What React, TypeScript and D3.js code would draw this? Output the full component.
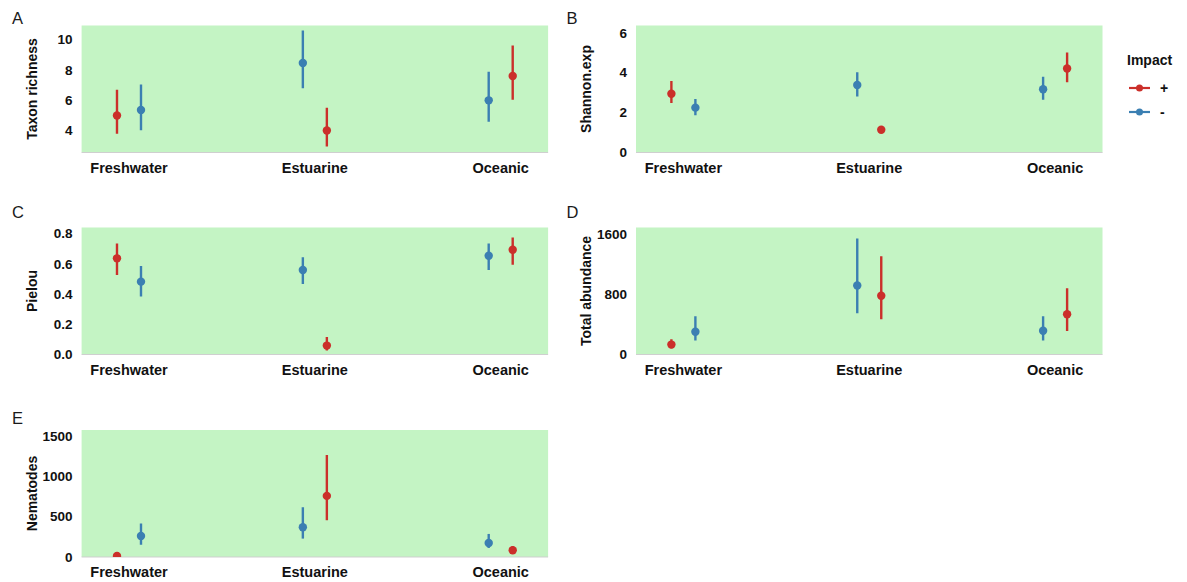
import React from "react";
import * as d3 from "d3";

const categories = ["Freshwater", "Estuarine", "Oceanic"];
const impactLevels = ["+", "-"];
const leftImpactByCategory = ["+", "-", "-"];

const panelLetters = ["A", "B", "C", "D", "E"];
const panelTitles = ["Taxon richness", "Shannon.exp", "Pielou", "Total abundance", "Nematodes"];

// A: Taxon richness
const richnessPlusMean = [5.0, 4.02, 7.6];
const richnessPlusLow = [3.8, 2.97, 6.03];
const richnessPlusHigh = [6.7, 5.52, 9.6];
const richnessMinusMean = [5.36, 8.46, 6.0];
const richnessMinusLow = [4.04, 6.79, 4.59];
const richnessMinusHigh = [7.04, 10.59, 7.88];
const richnessTicks = [4, 6, 8, 10];
const richnessDomain = [2.57, 10.92];

// B: Shannon.exp
const shannonPlusMean = [2.95, 1.14, 4.21];
const shannonPlusLow = [2.48, 0.99, 3.52];
const shannonPlusHigh = [3.58, 1.32, 5.02];
const shannonMinusMean = [2.25, 3.39, 3.17];
const shannonMinusLow = [1.87, 2.81, 2.64];
const shannonMinusHigh = [2.68, 4.03, 3.8];
const shannonTicks = [0, 2, 4, 6];
const shannonDomain = [0, 6.37];

// C: Pielou
const pielouPlusMean = [0.636, 0.059, 0.693];
const pielouPlusLow = [0.526, 0.026, 0.594];
const pielouPlusHigh = [0.734, 0.116, 0.774];
const pielouMinusMean = [0.482, 0.559, 0.653];
const pielouMinusLow = [0.384, 0.467, 0.559];
const pielouMinusHigh = [0.585, 0.644, 0.734];
const pielouTicks = [0, 0.2, 0.4, 0.6, 0.8];
const pielouDomain = [0, 0.84];

// D: Total abundance
const abundancePlusMean = [132, 782, 536];
const abundancePlusLow = [84, 470, 312];
const abundancePlusHigh = [202, 1310, 884];
const abundanceMinusMean = [303, 919, 316];
const abundanceMinusLow = [185, 549, 185];
const abundanceMinusHigh = [510, 1547, 510];
const abundanceTicks = [0, 800, 1600];
const abundanceDomain = [0, 1692];

// E: Nematodes
const nematodesPlusMean = [12, 758, 83];
const nematodesPlusLow = [0, 456, 50];
const nematodesPlusHigh = [33, 1264, 133];
const nematodesMinusMean = [261, 369, 174];
const nematodesMinusLow = [153, 228, 112];
const nematodesMinusHigh = [414, 617, 286];
const nematodesTicks = [0, 500, 1000, 1500];
const nematodesDomain = [0, 1575];

const panelsData = [
  { plus: [richnessPlusMean, richnessPlusLow, richnessPlusHigh], minus: [richnessMinusMean, richnessMinusLow, richnessMinusHigh], ticks: richnessTicks, domain: richnessDomain, fmt: (v: number) => String(v) },
  { plus: [shannonPlusMean, shannonPlusLow, shannonPlusHigh], minus: [shannonMinusMean, shannonMinusLow, shannonMinusHigh], ticks: shannonTicks, domain: shannonDomain, fmt: (v: number) => String(v) },
  { plus: [pielouPlusMean, pielouPlusLow, pielouPlusHigh], minus: [pielouMinusMean, pielouMinusLow, pielouMinusHigh], ticks: pielouTicks, domain: pielouDomain, fmt: d3.format(".1f") },
  { plus: [abundancePlusMean, abundancePlusLow, abundancePlusHigh], minus: [abundanceMinusMean, abundanceMinusLow, abundanceMinusHigh], ticks: abundanceTicks, domain: abundanceDomain, fmt: (v: number) => String(v) },
  { plus: [nematodesPlusMean, nematodesPlusLow, nematodesPlusHigh], minus: [nematodesMinusMean, nematodesMinusLow, nematodesMinusHigh], ticks: nematodesTicks, domain: nematodesDomain, fmt: (v: number) => String(v) },
];

const colorScale = d3.scaleOrdinal<string, string>().domain(impactLevels).range(["#CB2F2A", "#3B7FB2"]);

const FONT = "'Liberation Sans', Arial, Helvetica, sans-serif";
const colLeft = [81.6, 636];
const rowTop = [25.5, 227.5, 430];
const letterBaseline = [23.5, 218, 424];
const plotW = 466.5;
const plotH = 127;
const dodge = 12;

function Panel({ idx }: { idx: number }) {
  const d = panelsData[idx];
  const col = idx % 2;
  const row = Math.floor(idx / 2);
  const left = colLeft[col];
  const top = rowTop[row];
  const x = d3.scalePoint<string>().domain(categories).range([left, left + plotW]).padding(0.255);
  const y = d3.scaleLinear().domain(d.domain).range([top + plotH, top]);
  const clipId = `clip-${idx}`;
  const series = impactLevels.map((imp) => ({ imp, vals: imp === "+" ? d.plus : d.minus }));
  return (
    <g>
      <defs>
        <clipPath id={clipId}>
          <rect x={left} y={top} width={plotW} height={plotH} />
        </clipPath>
      </defs>
      <rect x={left} y={top} width={plotW} height={plotH} fill="#C4F4C4" />
      <line x1={left} x2={left + plotW} y1={top + plotH} y2={top + plotH} stroke="#cfcfcf" strokeWidth={1} />
      <text x={left - 69.5} y={letterBaseline[row]} fontFamily={FONT} fontSize={16.5} fill="#1a1a1a">{panelLetters[idx]}</text>
      <text transform={`translate(${left - 50},${top + plotH / 2}) rotate(-90)`} textAnchor="middle" dominantBaseline="central" fontFamily={FONT} fontSize={14} fontWeight="bold" fill="#111">{panelTitles[idx]}</text>
      {d.ticks.map((t) => (
        <text key={t} x={left - 9} y={y(t)} dy="0.35em" textAnchor="end" fontFamily={FONT} fontSize={13.5} fontWeight="bold" fill="#111">{d.fmt(t)}</text>
      ))}
      {categories.map((c) => (
        <text key={c} x={x(c)} y={top + plotH + 20} textAnchor="middle" fontFamily={FONT} fontSize={14.5} fontWeight="bold" fill="#111">{c}</text>
      ))}
      <g clipPath={`url(#${clipId})`}>
        {series.map((s) =>
          categories.map((c, ci) => {
            const off = leftImpactByCategory[ci] === s.imp ? -dodge : dodge;
            const cx = (x(c) as number) + off;
            const col = colorScale(s.imp);
            return (
              <g key={s.imp + c}>
                <line x1={cx} x2={cx} y1={y(s.vals[1][ci])} y2={y(s.vals[2][ci])} stroke={col} strokeWidth={2.4} />
                <circle cx={cx} cy={y(s.vals[0][ci])} r={4.2} fill={col} />
              </g>
            );
          })
        )}
      </g>
    </g>
  );
}

function Legend() {
  const lx = 1127;
  const rows = [88, 112];
  return (
    <g>
      <text x={lx} y={65} fontFamily={FONT} fontSize={14} fontWeight="bold" fill="#111">Impact</text>
      {impactLevels.map((imp, i) => (
        <g key={imp}>
          <line x1={lx + 2} x2={lx + 23} y1={rows[i]} y2={rows[i]} stroke={colorScale(imp)} strokeWidth={2.2} />
          <circle cx={lx + 12.5} cy={rows[i]} r={3.5} fill={colorScale(imp)} />
          <text x={lx + 33} y={rows[i]} dy="0.35em" fontFamily={FONT} fontSize={14} fontWeight="bold" fill="#111">{imp}</text>
        </g>
      ))}
    </g>
  );
}

export default function App() {
  return (
    <svg width={1187} height={582} style={{ position: "absolute", left: 0, top: 0, background: "#fff" }}>
      <rect width={1187} height={582} fill="#fff" />
      {panelsData.map((_, i) => (
        <Panel key={i} idx={i} />
      ))}
      <Legend />
    </svg>
  );
}
